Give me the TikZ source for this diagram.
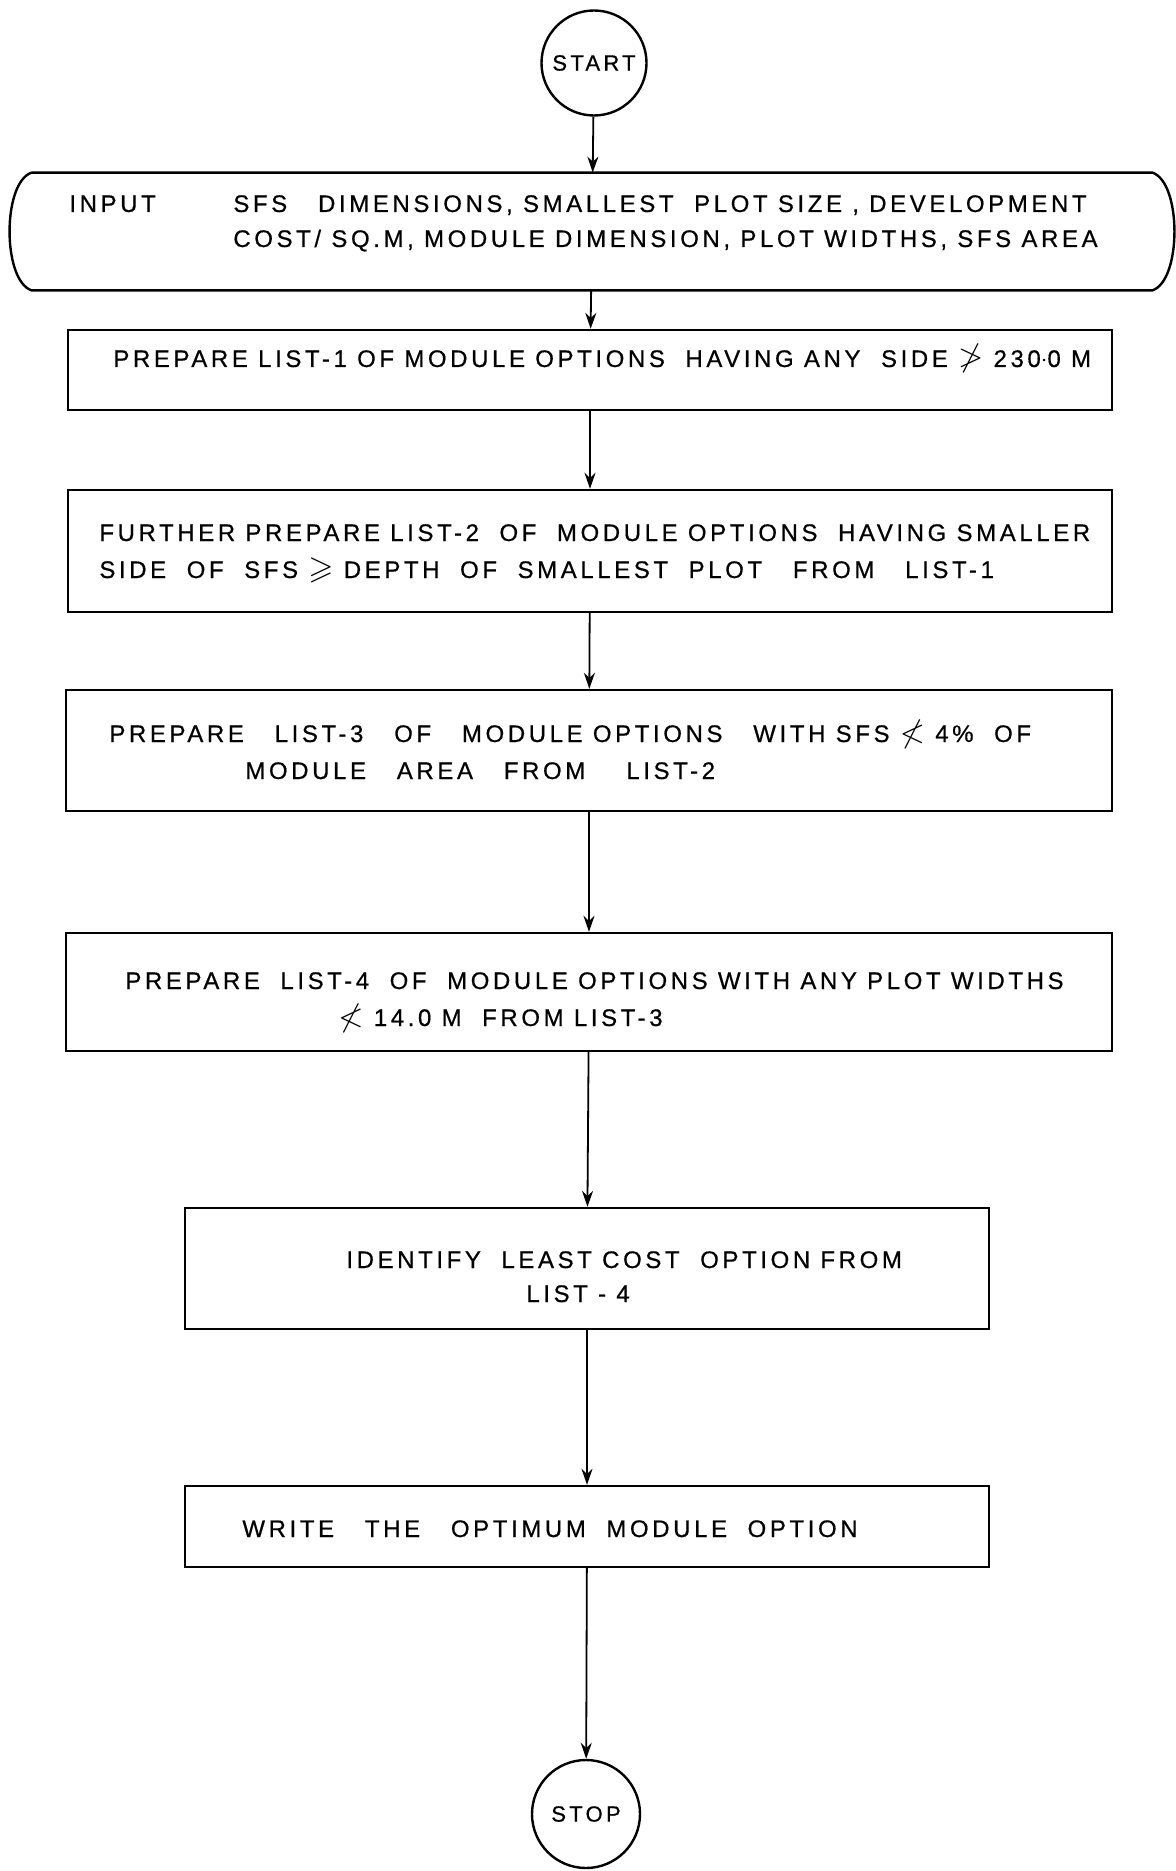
\documentclass[tikz,border=0pt]{standalone}
\usepackage{amssymb}
\usepackage{fontspec}
\setmainfont{Liberation Sans}
\newfontfamily\flowfont[LetterSpace=15,FakeBold=0.6]{Liberation Sans}
\usetikzlibrary{arrows.meta,positioning}
\newcommand{\relsym}[1]{\scalebox{1.35}{\(#1\)}}

\begin{document}
\begin{tikzpicture}[x=0.5pt,y=-0.5pt,>={Stealth[length=8pt,width=5.5pt]},
  every node/.style={font=\flowfont\fontsize{12}{14}\selectfont},
  term/.style={circle,draw,line width=1.2pt,minimum size=#1,inner sep=0pt},
  proc/.style={draw,line width=1.2pt,minimum width=#1,inner sep=0pt},
  txt/.style={anchor=base west,inner sep=0pt},
  flow/.style={->,line width=0.9pt}]
\useasboundingbox (0,0) rectangle (1175,1871);

% start and input
\node[term=52.5pt,font=\flowfont\fontsize{11}{13}\selectfont] (start) at (594,63) {START};
\node[minimum width=560pt,minimum height=58.5pt,inner sep=0pt] (input) at (592,231.5) {};
\draw[line width=1.2pt] (input.north west) -- (input.north east)
  .. controls +(14.7pt,-5pt) and +(14.7pt,5pt) .. (input.south east)
  -- (input.south west)
  .. controls +(-14.7pt,5pt) and +(-14.7pt,-5pt) .. (input.north west);
\node[txt] (inlabel) at (69,212) {INPUT};
\node[txt] (in1) at (233,212) {SFS\ \ \ DIMENSIONS,\ SMALLEST\ \ PLOT\ SIZE\ ,\ DEVELOPMENT};
\node[txt] (in2) at (233,247) {COST/ SQ.M, MODULE DIMENSION,\ PLOT WIDTHS, SFS AREA};

% process boxes
\node[proc=522pt,minimum height=40pt] (list1) at (590,370) {};
\node[txt] (l1a) at (113,367) {PREPARE LIST-1 OF MODULE OPTIONS\ \ HAVING ANY\ \ SIDE \relsym{\ngtr} 230$\cdot$0 M};

\node[proc=522pt,minimum height=61pt] (list2) at (590,551) {};
\node[txt] (l2a) at (99,541) {FURTHER PREPARE LIST-2\ \ OF\ \ MODULE OPTIONS\ \ HAVING SMALLER};
\node[txt] (l2b) at (99,578) {SIDE\ \ OF\ \ SFS \relsym{\geqslant} DEPTH\ \ OF\ \ SMALLEST\ \ PLOT\ \ \ FROM\ \ \ LIST-1};

\node[proc=523pt,minimum height=60.5pt] (list3) at (589,750.5) {};
\node[txt] (l3a) at (109,742) {PREPARE\ \ \ LIST-3\ \ \ OF\ \ \ MODULE OPTIONS\ \ \ WITH SFS \relsym{\nless} 4\%\ \ OF};
\node[txt] (l3b) at (245,779) {MODULE\ \ \ AREA\ \ \ FROM\ \ \ \ LIST-2};

\node[proc=523pt,minimum height=59pt] (list4) at (589,992) {};
\node[txt] (l4a) at (125,989) {PREPARE\ \ LIST-4\ \ OF\ \ MODULE\ OPTIONS WITH ANY\ PLOT WIDTHS};
\node[txt] (l4b) at (338,1026) {\relsym{\nless} 14.0 M\ \ FROM LIST-3};

\node[proc=402pt,minimum height=60.5pt] (least) at (587,1268.5) {};
\node[txt] (l5a) at (346,1268) {IDENTIFY\ \ LEAST COST\ \ OPTION FROM};
\node[txt] (l5b) at (526,1302) {LIST\ -\ 4};

\node[proc=402pt,minimum height=40.5pt] (write) at (587,1526.5) {};
\node[txt] (l6a) at (242,1537) {WRITE\ \ \ THE\ \ \ OPTIMUM\ \ MODULE\ \ OPTION};

\node[term=54pt,font=\flowfont\fontsize{11}{13}\selectfont] (stop) at (586,1814) {STOP};

% connectors
\draw[flow] (start) -- (input);
\draw[flow] (input) -- (list1);
\draw[flow] (list1) -- (list2);
\draw[flow] (list2) -- (list3);
\draw[flow] (list3) -- (list4);
\draw[flow] (list4) -- (least);
\draw[flow] (least) -- (write);
\draw[flow] (write) -- (stop);
\end{tikzpicture}
\end{document}
